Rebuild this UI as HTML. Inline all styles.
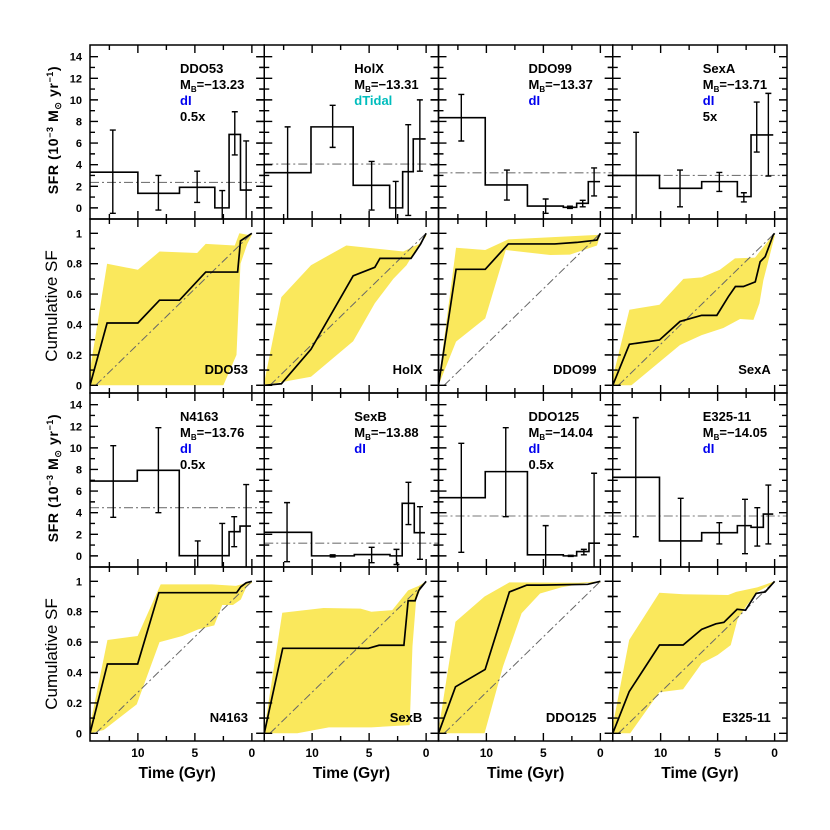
<!DOCTYPE html>
<html><head><meta charset="utf-8"><style>
html,body{margin:0;padding:0;background:#fff;}
svg{display:block;font-family:"Liberation Sans",sans-serif;}
</style></head><body>
<svg id="chart" width="830" height="830" viewBox="0 0 830 830" xmlns="http://www.w3.org/2000/svg"></svg>
<script>
// ---------- DATA ----------
const galaxyNames = ["DDO53","HolX","DDO99","SexA","N4163","SexB","DDO125","E325-11"];
const magnitudes = ["-13.23","-13.31","-13.37","-13.71","-13.76","-13.88","-14.04","-14.05"];
const morphTypes = ["dI","dTidal","dI","dI","dI","dI","dI","dI"];
const scaleNotes = ["0.5x","","","5x","0.5x","","0.5x",""];
const sfrEdges = [
 [14.2,10.0,6.35,3.25,2.0,1.0,0.0],
 [14.2,10.1,6.4,3.2,2.06,1.13,0.04],
 [14.2,10.1,6.4,3.25,2.08,1.06,0.03],
 [14.2,10.1,6.4,3.27,2.07,0.12],
 [14.2,10.05,6.37,2.0,1.04,0.08],
 [14.2,10.05,6.3,3.17,2.1,1.04,0.1],
 [14.2,10.1,6.4,3.25,2.08,1.0,0.03],
 [14.2,10.1,6.4,3.27,2.07,0.99,0.12]];
const sfrValues = [
 [3.3,1.35,1.9,0,6.8,1.65],
 [3.26,7.5,2.09,0,3.35,6.38],
 [8.35,2.12,0.17,0.05,0.42,2.43],
 [3.0,1.81,2.43,1.04,6.75],
 [6.93,7.92,0.02,2.24,2.76],
 [2.18,0,0.12,0,4.87,2.15],
 [5.39,7.8,0.1,0,0.4,1.17],
 [7.27,1.38,2.15,2.8,2.64,3.87]];
const errTimes = [
 [12.2,8.2,4.8,2.6,1.5,0.5],
 [12.15,8.2,4.78,2.67,1.57,0.55],
 [12.2,8.2,4.8,2.67,1.55,0.55],
 [12.15,8.3,4.85,2.7,1.57,0.55],
 [12.16,8.2,4.75,2.6,1.55,0.5],
 [12.2,8.2,4.78,2.6,1.55,0.54],
 [12.2,8.3,4.8,2.6,1.45,0.55],
 [12.18,8.24,4.85,2.6,1.52,0.55]];
const errLow = [
 [-0.5,-0.2,0.5,-1.1,4.9,-1.1],
 [-1.1,5.6,-0.2,-1.1,-0.7,3.4],
 [6.19,0.72,-0.5,-0.05,0.1,1.1],
 [-1.1,0.1,1.52,0.55,5.17,2.94],
 [3.57,4.0,-1.1,-1.1,0.85,-1.1],
 [-0.54,-0.1,-0.63,-0.8,2.9,-0.32],
 [0.33,3.63,-1.1,-0.05,0.1,-1.1],
 [1.77,-1.1,1.1,0.2,0.91,1.1]];
const errHigh = [
 [7.2,3.0,3.4,1.6,8.9,6.2],
 [7.5,9.5,4.3,2.45,7.7,10.0],
 [10.5,3.5,0.82,0.15,0.7,3.7],
 [7.0,3.5,3.28,1.4,9.8,10.6],
 [10.2,11.87,1.38,3.0,3.63,6.6],
 [4.93,0.1,0.79,0.6,6.81,4.55],
 [10.42,11.87,2.8,0.05,0.6,7.65],
 [12.8,5.33,3.07,5.24,4.46,6.56]];
const meanSfr = [2.35,4.06,3.25,3.0,4.46,1.17,3.69,3.69];
const cumTimes = [
 [14.2,12.7,10.0,8.1,6.35,4.05,1.25,1.0,0.6,0],
 [14.2,12.7,10.1,6.4,4.5,4.05,1.33,0.92,0.48,0],
 [14.2,12.66,10.1,8.08,4.0,2.08,0.3,0],
 [14.2,12.74,10.1,8.3,6.4,5.07,4.06,3.44,2.74,1.7,1.27,0.83,0.12,0],
 [14.2,12.67,10.02,8.16,1.34,0.97,0.5,0],
 [14.2,12.58,5.06,4.13,1.95,1.58,0.97,0.65,0],
 [14.2,12.71,10.11,7.98,6.45,5.29,1.11,0],
 [14.2,12.76,10.1,8.03,6.4,5.15,4.45,3.29,2.55,1.62,0.83,0]];
const cumValues = [
 [0,0.41,0.41,0.56,0.56,0.745,0.745,0.95,0.97,1.0],
 [0,0.01,0.237,0.72,0.776,0.835,0.835,0.88,0.93,1.0],
 [0,0.763,0.763,0.93,0.93,0.94,0.955,1.0],
 [0,0.27,0.298,0.42,0.46,0.46,0.583,0.65,0.65,0.68,0.813,0.846,0.99,1.0],
 [0,0.456,0.456,0.925,0.925,0.964,0.99,1.0],
 [0,0.559,0.559,0.579,0.579,0.872,0.872,0.94,1.0],
 [0,0.306,0.42,0.93,0.975,0.975,0.98,1.0],
 [0,0.274,0.581,0.581,0.684,0.72,0.73,0.816,0.81,0.92,0.93,1.0]];
const upperTimes = [
 [14.2,12.7,10.0,8.1,4.8,4.05,1.5,1.1,0.4,0],
 [14.2,12.7,10.1,7.0,2.0,0.6,0],
 [14.2,12.66,10.1,8.08,0],
 [14.2,12.74,10.1,8.0,6.4,4.8,3.48,1.72,0.99,0],
 [14.2,12.67,10.02,8.0,3.5,1.4,0],
 [14.2,12.62,9.0,5.75,4.8,2.97,1.58,0.65,0],
 [14.2,12.71,10.16,7.98,1.9,0],
 [14.2,12.76,10.11,8.03,4.08,3.38,1.53,0]];
const upperValues = [
 [0.1,0.8,0.76,0.88,0.87,0.93,0.92,1.0,0.99,0.99],
 [0.02,0.58,0.79,0.92,0.88,0.93,1.0],
 [0.02,0.905,0.89,0.96,0.99],
 [0.05,0.497,0.53,0.70,0.71,0.76,0.835,0.84,0.91,1.0],
 [0.05,0.614,0.64,0.98,0.98,0.97,1.0],
 [0.02,0.793,0.824,0.82,0.80,0.81,0.94,0.97,1.0],
 [0.02,0.734,0.90,0.993,0.99,1.0],
 [0.05,0.614,0.925,0.915,0.91,0.93,0.96,1.0]];
const lowerTimes = [
 [14.2,2.5,1.35,1.0,0.4,0],
 [14.2,10.1,6.4,4.5,2.88,1.72,0.83,0],
 [14.2,12.66,10.1,8.3,4.4,2.67,0.3,0],
 [14.2,12.56,8.3,6.4,4.5,3.03,1.86,1.33,0.99,0],
 [14.2,13.0,10.1,8.1,6.1,4.7,3.3,2.6,1.66,0.97,0.5,0],
 [14.2,11.3,8.54,4.8,1.44,1.2,0.88,0.42,0],
 [14.2,10.16,8.54,6.91,5.29,3.43,1.11,0],
 [14.2,12.67,10.11,8.03,6.4,5.0,3.85,3.25,2.46,1.53,0]];
const lowerValues = [
 [0,0,0.2,0.8,0.93,0.99],
 [0,0.056,0.29,0.54,0.70,0.79,0.90,0.98],
 [0,0.287,0.44,0.89,0.857,0.86,0.92,0.99],
 [0,0,0.265,0.33,0.377,0.436,0.43,0.54,0.69,0.98],
 [0,0.022,0.19,0.60,0.64,0.684,0.71,0.844,0.844,0.88,0.96,0.99],
 [0,0,0.039,0.039,0.054,0.57,0.875,0.96,0.99],
 [0,0,0.44,0.79,0.92,0.96,0.99,0.99],
 [0,0,0.27,0.29,0.46,0.515,0.58,0.75,0.84,0.93,0.99]];
const sfrTickLabels = ["0","2","4","6","8","10","12","14"];
const cumTickLabels = ["0","0.2","0.4","0.6","0.8","1"];
const timeTickLabels = ["10","5","0"];

// ---------- LAYOUT ----------
const NS = "http://www.w3.org/2000/svg";
const svg = document.getElementById("chart");
const colLeft = c => 90 + c*174.25;
const PW = 174.25, PH = 174;
const T0 = 14.2, PXG = 11.4;
function mk(tag, attrs, parent){ const e=document.createElementNS(NS,tag); for(const k in attrs) e.setAttribute(k,attrs[k]); (parent||svg).appendChild(e); return e; }
const xAxis = (L,t) => L + (T0 - t)*PXG;
const sfrAxis = (top,v) => top + (15.08 - v)*10.8;
const cumAxis = (top,c) => top + (1.094 - c)*152;

const defs = mk("defs",{});
for(let p=0;p<8;p++){
  const col=p%4, row=Math.floor(p/4);
  const L=colLeft(col), sTop=45+row*348, cTop=sTop+PH;
  ["s","c"].forEach((k,i)=>{
    const cp=mk("clipPath",{id:"clip"+k+p},defs);
    mk("rect",{x:L,y:i?cTop:sTop,width:PW,height:PH},cp);
  });

  // ---- SFR panel ----
  const gs = mk("g",{});
  
  
  const gsc = mk("g",{"clip-path":"url(#clips"+p+")"},gs);
  const mean = mk("line",{x1:L,x2:L+PW,y1:sfrAxis(sTop,meanSfr[p]),y2:sfrAxis(sTop,meanSfr[p]),stroke:"#777","stroke-width":1.1,"stroke-dasharray":"9,3,2,3"},gsc);
  
  
  const ed=sfrEdges[p], vals=sfrValues[p];
  let d="";
  for(let i=0;i<vals.length;i++){
    const y=sfrAxis(sTop,vals[i]);
    d += (i===0?"M":"L")+xAxis(L,ed[i])+","+y+" L"+xAxis(L,ed[i+1])+","+y+" ";
  }
  const st = mk("path",{d:d,fill:"none",stroke:"#000","stroke-width":1.6},gsc);
  
  
  for(let i=0;i<errTimes[p].length;i++){
    const x=xAxis(L,errTimes[p][i]), y1=sfrAxis(sTop,errLow[p][i]), y2=sfrAxis(sTop,errHigh[p][i]);
    const eb = mk("path",{d:`M${x},${y1}L${x},${y2}M${x-3},${y1}L${x+3},${y1}M${x-3},${y2}L${x+3},${y2}`,stroke:"#000","stroke-width":1.4,fill:"none"},gsc);
    
    
  }
  // ---- Cumulative panel ----
  const gc = mk("g",{});
  
  
  const gcc = mk("g",{"clip-path":"url(#clipc"+p+")"},gc);
  let pts=[];
  upperTimes[p].forEach((t,i)=>pts.push(xAxis(L,t)+","+cumAxis(cTop,upperValues[p][i])));
  for(let i=lowerTimes[p].length-1;i>=0;i--) pts.push(xAxis(L,lowerTimes[p][i])+","+cumAxis(cTop,lowerValues[p][i]));
  const env = mk("polygon",{points:pts.join(" "),fill:"#fae85c",stroke:"none"},gcc);
  
  
  const diag = mk("line",{x1:xAxis(L,13.7),y1:cumAxis(cTop,0),x2:xAxis(L,0),y2:cumAxis(cTop,1),stroke:"#666","stroke-width":1,"stroke-dasharray":"8,3,2,3"},gcc);
  
  
  const cl = mk("polyline",{points:cumTimes[p].map((t,i)=>xAxis(L,t)+","+cumAxis(cTop,cumValues[p][i])).join(" "),fill:"none",stroke:"#000","stroke-width":1.7},gcc);
  
  

  // frames & ticks
  [[sTop,"s"],[cTop,"c"]].forEach(([top,k])=>{
    mk("rect",{x:L,y:top,width:PW,height:PH,fill:"none",stroke:"#000","stroke-width":1.5});
    let td="";
    for(let t=0;t<=12.5;t+=2.5){
      const x=xAxis(L,t), len=(t%5===0)?8:5;
      td+=`M${x},${top}L${x},${top+len}M${x},${top+PH}L${x},${top+PH-len}`;
    }
    if(k==="s"){
      for(let v=0;v<=14;v++){ const y=sfrAxis(top,v), len=v%2?5:8;
        td+=`M${L},${y}L${L+len},${y}M${L+PW},${y}L${L+PW-len},${y}`; }
    } else {
      for(let i=0;i<=10;i++){ const y=cumAxis(top,i/10), len=i%2?5:8;
        td+=`M${L},${y}L${L+len},${y}M${L+PW},${y}L${L+PW-len},${y}`; }
    }
    if(col>0){
      if(k==="s"){ for(let v=0;v<=14;v++){ const y=sfrAxis(top,v), len=v%2?5:8; td+=`M${L},${y}L${L-len},${y}`; } }
      else { for(let i=0;i<=10;i++){ const y=cumAxis(top,i/10), len=i%2?5:8; td+=`M${L},${y}L${L-len},${y}`; } }
    }
    mk("path",{d:td,stroke:"#000","stroke-width":1.4,fill:"none"});
  });

  // text annotations
  const tx=L+90;
  const n1 = mk("text",{x:tx,y:sTop+28,"font-size":13,"font-weight":"bold"}); n1.textContent=galaxyNames[p];
  
  
  const mb = mk("text",{x:tx,y:sTop+44,"font-size":13,"font-weight":"bold"});
  
  
  mb.innerHTML = 'M<tspan font-size="8" dy="3">B</tspan><tspan dy="-3">=−'+magnitudes[p].slice(1)+'</tspan>';
  const mt = mk("text",{x:tx,y:sTop+60,"font-size":13,"font-weight":"bold",fill:morphTypes[p]==="dI"?"#0000ee":"#00bdbd"}); mt.textContent=morphTypes[p];
  
  
  if(scaleNotes[p]){ const sn=mk("text",{x:tx,y:sTop+76,"font-size":13,"font-weight":"bold"}); sn.textContent=scaleNotes[p];
    
     }
  const cn = mk("text",{x:L+158,y:cTop+155,"font-size":13,"font-weight":"bold","text-anchor":"end"}); cn.textContent=galaxyNames[p];
  
  

  // y tick labels
  if(col===0){
    sfrTickLabels.forEach(lab=>{ const t=mk("text",{x:82,y:sfrAxis(sTop,+lab)+4,"font-size":11,"font-weight":"bold","text-anchor":"end"}); t.textContent=lab;
      
       });
    cumTickLabels.forEach(lab=>{ const t=mk("text",{x:82,y:cumAxis(cTop,+lab)+4,"font-size":11,"font-weight":"bold","text-anchor":"end"}); t.textContent=lab;
      
       });
    const yt=mk("text",{transform:`translate(58,${sTop+PH/2-2}) rotate(-90)`,"font-size":14,"font-weight":"600","letter-spacing":"0.6","text-anchor":"middle"});
    yt.innerHTML='SFR (10<tspan font-size="9" dy="-5">−3</tspan><tspan dy="5"> M</tspan><tspan font-size="9" dy="3">⊙</tspan><tspan dy="-3"> yr</tspan><tspan font-size="9" dy="-5">−1</tspan><tspan dy="5">)</tspan>';
    
    
    const ct=mk("text",{transform:`translate(57,${cTop+PH/2}) rotate(-90)`,"font-size":17,"text-anchor":"middle"}); ct.textContent="Cumulative SF";
    
    
  }
  if(row===1){
    timeTickLabels.forEach(lab=>{ const t=mk("text",{x:xAxis(L,+lab),y:757,"font-size":12,"font-weight":"bold","text-anchor":"middle"}); t.textContent=lab;
      
       });
    const xt=mk("text",{x:L+PW/2,y:778,"font-size":15.5,"font-weight":"bold","text-anchor":"middle"}); xt.textContent="Time (Gyr)";
    
    
  }
}
</script>
</body></html>
